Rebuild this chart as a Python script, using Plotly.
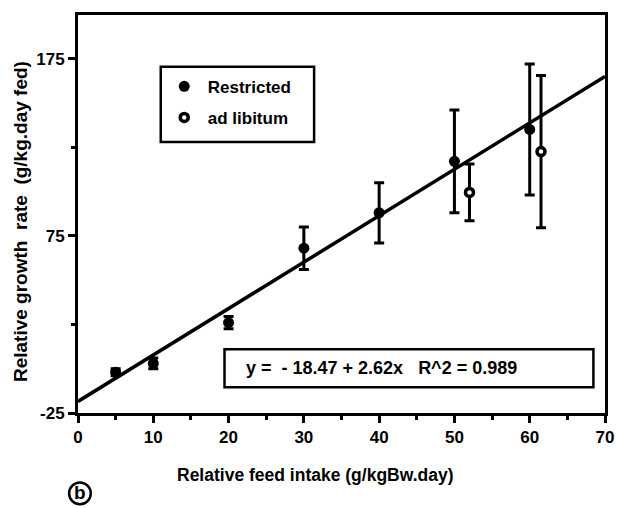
import numpy as np
import plotly.graph_objects as go

# Restricted feeding groups
restricted_x = [5, 10, 20, 30, 40, 50, 60]
restricted_y = [-2, 3, 26, 68, 88, 117, 135]
restricted_err = [2, 3, 3.5, 12, 17, 29, 37]

# ad libitum groups
adlib_x = [52, 61.5]
adlib_y = [99.5, 122.5]
adlib_err = [16, 43]

# Fitted regression
intercept = -18.47
slope = 2.62
fit_x = np.array([0, 70])
fit_y = intercept + slope * fit_x

x_ticks = [0, 10, 20, 30, 40, 50, 60, 70]
y_ticks = [-25, 75, 175]

FONT = "Liberation Sans"

fig = go.Figure()

fig.add_trace(go.Scatter(
    x=fit_x, y=fit_y, mode="lines",
    line=dict(color="black", width=3.5),
    showlegend=False, hoverinfo="skip",
))

fig.add_trace(go.Scatter(
    x=restricted_x, y=restricted_y, mode="markers", name="Restricted",
    legendgroup="r",
    marker=dict(symbol="circle", size=11, color="black"),
    error_y=dict(type="data", array=restricted_err, visible=True,
                 color="black", thickness=3, width=5),
))

fig.add_trace(go.Scatter(
    x=adlib_x, y=adlib_y, mode="markers", name="ad libitum",
    legendgroup="a",
    marker=dict(symbol="circle", size=8, color="white",
                line=dict(color="black", width=3.5)),
    error_y=dict(type="data", array=adlib_err, visible=True,
                 color="black", thickness=3, width=5),
))

fig.update_xaxes(
    range=[0, 70], tickvals=x_ticks, ticktext=[str(v) for v in x_ticks],
    ticks="outside", ticklen=7, tickwidth=3, tickcolor="black",
    minor=dict(dtick=5, tick0=0, ticks="outside", ticklen=4, tickwidth=3, tickcolor="black"),
    showline=True, linewidth=3, linecolor="black", mirror=True,
    showgrid=False, zeroline=False,
    tickfont=dict(family=FONT, size=17, color="black", weight="bold"),
)

fig.update_yaxes(
    range=[-25, 199.6], tickvals=y_ticks, ticktext=[str(v) for v in y_ticks],
    ticks="outside", ticklen=7, tickwidth=3, tickcolor="black",
    minor=dict(dtick=50, tick0=-25, ticks="outside", ticklen=4, tickwidth=3, tickcolor="black"),
    showline=True, linewidth=3, linecolor="black", mirror=True,
    showgrid=False, zeroline=False,
    tickfont=dict(family=FONT, size=17, color="black", weight="bold"),
)

fig.update_layout(
    width=626, height=508,
    margin=dict(l=78, r=12, t=12, b=95),
    paper_bgcolor="white", plot_bgcolor="white",
    font=dict(family=FONT, color="black"),
    legend=dict(
        x=0.157, y=0.865, xanchor="left", yanchor="top",
        borderwidth=0, bgcolor="rgba(0,0,0,0)",
        font=dict(family=FONT, size=17, color="black", weight="bold"),
        tracegroupgap=6, itemwidth=37,
    ),
    shapes=[
        # legend frame
        dict(type="rect", xref="paper", yref="paper",
             x0=0.157, x1=0.448, y0=0.681, y1=0.870,
             line=dict(color="black", width=2.5), fillcolor="white", layer="below"),
        # equation frame
        dict(type="rect", xref="paper", yref="paper",
             x0=0.278, x1=0.978, y0=0.065, y1=0.160,
             line=dict(color="black", width=2.5), fillcolor="white", layer="below"),
        # panel letter ring
        dict(type="circle", xref="paper", yref="paper",
             x0=0.0037 - 0.0205, x1=0.0037 + 0.0205,
             y0=-0.202 - 0.0274, y1=-0.202 + 0.0274,
             line=dict(color="black", width=2.5)),
    ],
    annotations=[
        dict(text="y =  - 18.47 + 2.62x   R^2 = 0.989", xref="paper", yref="paper",
             x=0.315, y=0.112, xanchor="left", yanchor="middle", showarrow=False,
             font=dict(family=FONT, size=18, color="black", weight="bold")),
        dict(text="Relative feed intake (g/kgBw.day)", xref="paper", yref="paper",
             x=0.4515, y=-0.1546, xanchor="center", yanchor="middle", showarrow=False,
             font=dict(family=FONT, size=17.5, color="black", weight="bold")),
        dict(text="Relative growth  rate  (g/kg.day fed)", xref="paper", yref="paper",
             x=-0.108, y=0.48, xanchor="center", yanchor="middle", showarrow=False,
             textangle=-90,
             font=dict(family=FONT, size=19, color="black", weight="bold")),
        dict(text="b", xref="paper", yref="paper",
             x=0.0037, y=-0.199, xanchor="center", yanchor="middle", showarrow=False,
             font=dict(family=FONT, size=19, color="black", weight="bold")),
    ],
)

fig.write_html("out.html")
